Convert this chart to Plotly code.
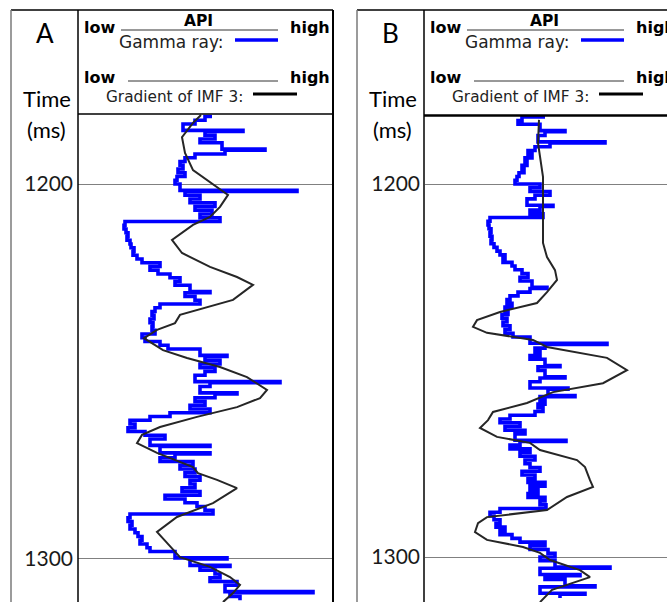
import plotly.graph_objects as go

W, H = 667, 602

# ---- data -----------------------------------------------------------------
# gamma-ray log (two-way time in ms, normalised API units low -> high)
gamma_time_a = [1182, 1183, 1184, 1185.7, 1186, 1187, 1188, 1189, 1190.7, 1191,
                1192, 1193, 1194, 1195, 1196, 1197, 1198, 1199, 1200, 1201.7,
                1202, 1203, 1204, 1205, 1206, 1207, 1208, 1209, 1210, 1211,
                1212, 1213, 1214, 1215, 1216, 1217, 1218, 1219, 1220, 1221,
                1222, 1223, 1224, 1225, 1226, 1227, 1228.7, 1229, 1230, 1231,
                1232, 1233, 1234, 1235, 1236, 1237, 1238, 1239, 1240, 1241,
                1242, 1243, 1244, 1245.7, 1246, 1247, 1248, 1249, 1250, 1251,
                1252.7, 1253, 1254, 1255.7, 1256, 1257, 1258, 1259, 1260, 1261,
                1262, 1263, 1264, 1265, 1266, 1267, 1268, 1269.7, 1270, 1271.7,
                1272, 1273, 1274, 1275, 1276, 1277, 1278, 1279, 1280, 1281,
                1282, 1283, 1284, 1285, 1286, 1287, 1288, 1289, 1290, 1291,
                1292, 1293, 1294, 1295, 1296, 1297, 1298, 1299.7, 1300, 1301.7,
                1302, 1303, 1304, 1305, 1306, 1307, 1308.7, 1309, 1310, 1311]
gamma_a = [67, 63.5, 58.5, 52.5, 82.5, 63.5, 68.5, 61, 72, 93.5,
           73.5, 58.5, 53.5, 51, 52.5, 50, 53.5, 49.5, 48.5, 51,
           109.5, 53.5, 61, 56, 68.5, 58.5, 67, 61, 71, 23.5,
           23, 24, 25, 24.5, 26, 26.5, 28, 27.5, 29.5, 32,
           41, 36, 40, 46, 51, 48.5, 56, 66, 53.5, 58.5,
           61, 41, 38.5, 37, 38, 36, 37.5, 37, 38.5, 32,
           33.5, 41, 45, 61, 74.5, 63.5, 71, 61, 68.5, 63.5,
           58.5, 101, 66, 61, 79.5, 68.5, 58.5, 63.5, 56, 66,
           46, 36, 26, 28.5, 25, 33.5, 43.5, 36, 66, 41,
           66, 48.5, 41, 57.5, 51, 58.5, 53.5, 61, 56, 58.5,
           52, 61, 43.5, 53.5, 59.5, 63.5, 67.5, 26, 25, 27,
           26, 28.5, 30, 32, 31, 34.5, 36, 48.5, 74.5, 56,
           76, 61, 68.5, 71, 66, 79.5, 73.5, 117.5, 76, 81]

gamma_time_b = [1182, 1183, 1184, 1185.7, 1186, 1187, 1188.7, 1189, 1190, 1191,
                1192, 1193, 1194, 1195, 1196, 1197, 1198, 1199, 1200, 1201,
                1202, 1203, 1204, 1205.7, 1206, 1207, 1208, 1209, 1210, 1211,
                1212, 1213, 1214, 1215, 1216, 1217, 1218, 1219, 1220, 1221,
                1222, 1223, 1224, 1225, 1226, 1227.7, 1228, 1229, 1230, 1231,
                1232, 1233, 1234, 1235, 1236, 1237, 1238, 1239, 1240, 1241,
                1242.7, 1243, 1244, 1245, 1246, 1247, 1248.7, 1249, 1250, 1251.7,
                1252, 1253, 1254.7, 1255, 1256.7, 1257, 1258, 1259, 1260, 1261,
                1262, 1263, 1264, 1265, 1266, 1267, 1268.7, 1269, 1270, 1271,
                1272, 1273, 1274, 1275, 1276, 1277, 1278, 1279, 1280, 1281,
                1282, 1283, 1284, 1285, 1286, 1287, 1288, 1289, 1290, 1291,
                1292, 1293, 1294, 1295, 1296, 1297, 1298, 1299, 1300, 1301,
                1302.7, 1303, 1304.7, 1305, 1306, 1307.7, 1308, 1309.7, 1310, 1311]
gamma_b = [60, 48.5, 46.5, 57.5, 70, 60, 56.5, 90, 62.5, 55,
           51.5, 53.5, 50, 51, 48.5, 49.5, 47, 46, 45, 57.5,
           52.5, 62.5, 55, 51, 64, 57.5, 52.5, 59, 32.5, 31.5,
           32, 33, 32.5, 33.5, 33, 34.5, 36, 37.5, 40, 39,
           43.5, 45, 48.5, 51.5, 47.5, 53.5, 61, 52.5, 46.5, 42.5,
           41, 43.5, 40, 41.5, 38.5, 41, 39, 42.5, 40, 44,
           52.5, 91, 60, 55, 57.5, 52.5, 60, 67.5, 56.5, 60,
           70, 57.5, 52.5, 71.5, 61.5, 75, 57.5, 60, 56.5, 59,
           55, 42.5, 37.5, 47.5, 40, 50, 45, 70.5, 47.5, 42.5,
           52.5, 47.5, 55, 50, 52.5, 57.5, 48.5, 55, 51.5, 60,
           52.5, 56.5, 51.5, 60, 57.5, 60.5, 37.5, 32.5, 34.5, 37.5,
           35.5, 40, 37.5, 43.5, 47.5, 60, 52.5, 61.5, 65, 57.5,
           65, 92.5, 57.5, 77.5, 60, 70, 85, 57.5, 80, 67.5]

# gradient of IMF 3 (normalised, low -> high)
imf_time_a = [1181.6, 1183.7, 1187.5, 1191.7, 1196.3, 1198.9, 1202.9, 1206.1, 1208.8, 1210.9,
              1214.9, 1218.4, 1222.1, 1224.8, 1226.9, 1230.9, 1234.9, 1237.1, 1238.9, 1241.1,
              1244.3, 1246.4, 1248.8, 1251.5, 1254.9, 1257.1, 1259.5, 1262.1, 1264.8, 1266.9,
              1269.1, 1271.7, 1275.5, 1277.1, 1278.9, 1281.1, 1285.1, 1288.8, 1292.8, 1295.7,
              1299.5, 1302.1, 1304.8, 1306.9, 1309.1, 1311.5]
imf_a = [61.5, 57.5, 52, 53.5, 57.5, 64.5, 75, 71, 66, 57.5,
         47, 52, 66, 79.5, 87.5, 77.5, 51, 48.5, 39.5, 33,
         42.5, 54.5, 71, 84.5, 94.5, 91, 79.5, 59.5, 41, 32,
         29.5, 39.5, 57.5, 60, 69.5, 79.5, 67.5, 49.5, 39.5, 44.5,
         51, 66, 76, 81, 77.5, 72.5]

imf_time_b = [1182.8, 1189.0, 1198.1, 1207.0, 1215.8, 1219.6, 1223.1, 1225.7, 1229.0, 1231.9,
              1234.3, 1236.5, 1238.3, 1239.9, 1241.8, 1243.7, 1246.6, 1249.9, 1253.4, 1255.8,
              1258.7, 1261.1, 1263.3, 1265.4, 1267.8, 1269.4, 1271.3, 1274.0, 1275.9, 1279.4,
              1281.2, 1283.9, 1287.4, 1289.3, 1290.9, 1293.3, 1295.4, 1297.3, 1298.9, 1300.8,
              1303.5, 1305.4, 1307.0, 1308.8, 1312.1]
imf_b = [57, 56.5, 59, 59, 59, 61, 65, 66, 61, 56,
         37.5, 26, 24, 31, 54, 61, 91, 101, 89, 64,
         51, 34, 31.5, 27.5, 36, 52.5, 57.5, 76, 80, 82.5,
         84, 71, 61, 31, 26.5, 25, 31, 49, 57.5, 62.5,
         77.5, 82.5, 74, 63.5, 57.5]

time_ticks = [1200, 1300]
panel_labels = ["A", "B"]

BLUE = "#0000FF"
DARK = "#262626"
GRID = "#808080"
TITLE_FONT = "Lato"
KEY_FONT = "DejaVu Sans"


def px(x):
    return x / W


def py(y):
    return 1 - y / H


fig = go.Figure()

for gt, gv, it, iv, xa, ya in [
    (gamma_time_a, gamma_a, imf_time_a, imf_a, "x", "y"),
    (gamma_time_b, gamma_b, imf_time_b, imf_b, "x2", "y2"),
]:
    fig.add_trace(go.Scatter(x=gv, y=gt, mode="lines", xaxis=xa, yaxis=ya,
                             line=dict(color=BLUE, width=3.6, shape="hv"),
                             hoverinfo="skip"))
    fig.add_trace(go.Scatter(x=iv, y=it, mode="lines", xaxis=xa, yaxis=ya,
                             line=dict(color=DARK, width=2),
                             hoverinfo="skip"))

yaxis_common = dict(
    tickmode="array", tickvals=time_ticks, ticks="", showline=False,
    showgrid=True, gridcolor=GRID, gridwidth=1.2, zeroline=False,
    tickfont=dict(family=TITLE_FONT, size=21, color="#1a1a1a"),
    ticklabelstandoff=4,
)
xaxis_common = dict(showticklabels=False, showgrid=False, zeroline=False,
                    showline=False, ticks="")

fig.update_layout(
    width=W, height=H,
    margin=dict(l=0, r=0, t=0, b=0),
    paper_bgcolor="white", plot_bgcolor="white",
    showlegend=False,
    xaxis=dict(domain=[px(78), px(333)], range=[0, 127.5], **xaxis_common),
    yaxis=dict(domain=[0, py(114)], range=[1311.47, 1181.33], anchor="x", **yaxis_common),
    xaxis2=dict(domain=[px(425), 1], range=[0, 121], anchor="y2", **xaxis_common),
    yaxis2=dict(domain=[0, py(116)], range=[1312.06, 1181.77], anchor="x2", **yaxis_common),
)

shapes = []
annotations = []


def seg(x0, y0, x1, y1, color="black", width=1.5):
    shapes.append(dict(type="line", xref="paper", yref="paper",
                       x0=px(x0), y0=py(y0), x1=px(x1), y1=py(y1),
                       line=dict(color=color, width=width)))


def txt(s, x, y, size, family, bold=False, xanchor="center", color="black"):
    annotations.append(dict(text=f"<b>{s}</b>" if bold else s,
                            x=px(x), y=py(y), xref="paper", yref="paper",
                            showarrow=False, xanchor=xanchor, yanchor="middle",
                            font=dict(family=family, size=size, color=color)))


def panel_frame(dx, label, key_bottom, key_width):
    # outer frame, time column divider and key box
    seg(11 + dx, 10, 333 + dx, 10, "black", 1.5)
    seg(11 + dx, 10, 11 + dx, 602, "#7a7a7a", 1.5)
    seg(78 + dx, 10, 78 + dx, 602, "black", 1.5)
    seg(333 + dx, 10, 333 + dx, 602, "black", 2)
    seg(78 + dx, key_bottom, 333 + dx, key_bottom, "black", key_width)

    # panel letter and axis title
    txt(label, 45 + dx, 33, 26, TITLE_FONT)
    txt("Time", 47 + dx, 98, 22, TITLE_FONT)
    txt("(ms)", 46 + dx, 129, 22, TITLE_FONT)

    # gamma-ray scale
    txt("low", 82 + dx, 27, 16, KEY_FONT, bold=True, xanchor="left")
    txt("API", 198 + dx, 21, 15.5, KEY_FONT, bold=True)
    seg(121 + dx, 30, 278 + dx, 30, "#333333", 1)
    txt("high", 288 + dx, 27, 16, KEY_FONT, bold=True, xanchor="left")
    txt("Gamma ray:", 117 + dx, 42, 17, KEY_FONT, xanchor="left", color="#222222")
    seg(235 + dx, 40, 278 + dx, 40, BLUE, 3.5)

    # IMF gradient scale
    txt("low", 82 + dx, 77, 16, KEY_FONT, bold=True, xanchor="left")
    seg(128 + dx, 81, 278 + dx, 81, "#333333", 1)
    txt("high", 288 + dx, 77, 16, KEY_FONT, bold=True, xanchor="left")
    txt("Gradient of IMF 3:", 104 + dx, 97, 15.3, KEY_FONT, xanchor="left", color="#222222")
    seg(253 + dx, 94, 297 + dx, 94, "black", 3)


panel_frame(0, panel_labels[0], 114, 1.5)
panel_frame(346, panel_labels[1], 115.5, 2.5)

fig.update_layout(shapes=shapes, annotations=annotations)

fig.write_html("out.html")
